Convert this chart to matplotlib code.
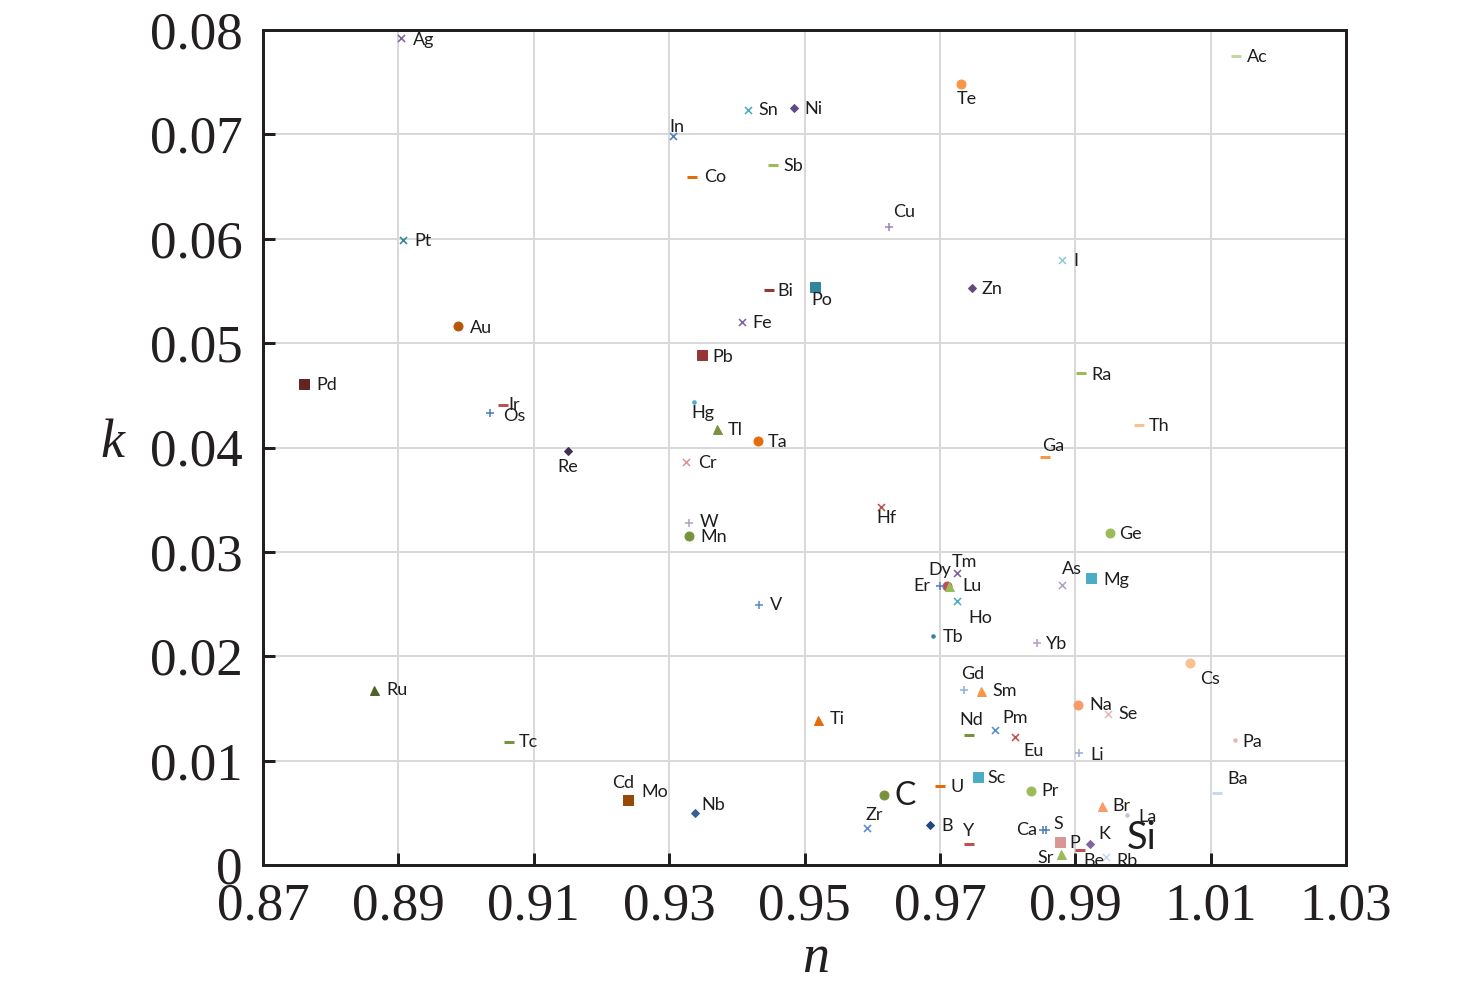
import matplotlib
matplotlib.use("Agg")
import matplotlib.pyplot as plt

# element, refractive index n, extinction coefficient k
elements = ["Ag", "Sn", "Ni", "In", "Co", "Sb", "Pt", "Cu", "Te", "Ac",
            "Bi", "Po", "Zn", "I", "Au", "Fe", "Pb", "Pd", "Ra", "Os",
            "Ir", "Hg", "Tl", "Ta", "Re", "Ga", "Th", "Cr", "Hf", "W",
            "Mn", "Ge", "Tm", "Dy", "Er", "Lu", "Ho", "Tb", "As", "Mg",
            "Yb", "V", "Cs", "Ru", "Gd", "Sm", "Ti", "Na", "Se", "Nd",
            "Pm", "Eu", "Li", "Pa", "Tc", "Sc", "U", "C", "Pr", "Ba",
            "Cd", "Mo", "Nb", "Br", "La", "Zr", "B", "Y", "Ca", "S",
            "P", "Sr", "K", "Be", "Rb", "Si"]
n_vals = [0.8904, 0.9416, 0.9484, 0.9305, 0.9334, 0.9453, 0.8907, 0.9625, 0.9731, 1.0138,
          0.9447, 0.9515, 0.9747, 0.9881, 0.8988, 0.9408, 0.9348, 0.8761, 0.9909, 0.9036,
          0.9054, 0.9337, 0.9370, 0.9431, 0.9150, 0.9855, 0.9994, 0.9325, 0.9613, 0.9330,
          0.9330, 0.9951, 0.9726, 0.9710, 0.9700, 0.9713, 0.9726, 0.9690, 0.9881, 0.9924,
          0.9843, 0.9433, 1.0069, 0.8864, 0.9736, 0.9761, 0.9520, 0.9904, 0.9948, 0.9743,
          0.9781, 0.9811, 0.9906, 1.0136, 0.9063, 0.9756, 0.9700, 0.9617, 0.9835, 1.0110,
          0.9239, 0.9239, 0.9338, 0.9939, 0.9977, 0.9592, 0.9686, 0.9743, 0.9852, 0.9857,
          0.9877, 0.9879, 0.9922, 0.9907, 0.9946, 0.9974]
k_vals = [0.0792, 0.0723, 0.0725, 0.0698, 0.0659, 0.0671, 0.0599, 0.0611, 0.0748, 0.0775,
          0.0551, 0.0554, 0.0553, 0.0580, 0.0516, 0.0520, 0.0489, 0.0461, 0.0471, 0.0433,
          0.0441, 0.0444, 0.0418, 0.0406, 0.0397, 0.0391, 0.0422, 0.0386, 0.0343, 0.0328,
          0.0315, 0.0318, 0.0280, 0.0267, 0.0267, 0.0267, 0.0253, 0.0219, 0.0268, 0.0275,
          0.0213, 0.0249, 0.0194, 0.0168, 0.0168, 0.0167, 0.0139, 0.0153, 0.0145, 0.0125,
          0.0129, 0.0123, 0.0107, 0.0120, 0.0118, 0.0084, 0.0076, 0.0067, 0.0071, 0.0069,
          0.0062, 0.0062, 0.0050, 0.0057, 0.0048, 0.0035, 0.0038, 0.0020, 0.0034, 0.0034,
          0.0022, 0.0011, 0.0020, 0.0014, 0.0008, 0.0016]

x_ticks = [0.87, 0.89, 0.91, 0.93, 0.95, 0.97, 0.99, 1.01, 1.03]
x_tick_labels = ["0.87", "0.89", "0.91", "0.93", "0.95", "0.97", "0.99", "1.01", "1.03"]
y_ticks = [0, 0.01, 0.02, 0.03, 0.04, 0.05, 0.06, 0.07, 0.08]
y_tick_labels = ["0", "0.01", "0.02", "0.03", "0.04", "0.05", "0.06", "0.07", "0.08"]

# marker style per element (Excel-like series markers)
STYLE = {
    "Ag": ("x", "#8064A2"), "Sn": ("x", "#4BACC6"), "Ni": ("D", "#5F4B8B"),
    "In": ("x", "#4F81BD"), "Co": ("_", "#E46C0A"), "Sb": ("_", "#9BBB59"),
    "Pt": ("x", "#31859C"), "Cu": ("+", "#9C86C0"), "Te": ("o", "#F79646"),
    "Ac": ("_", "#C3D69B"), "Bi": ("_", "#953735"), "Po": ("s", "#31859C"),
    "Zn": ("D", "#604A7B"), "I": ("x", "#93CDDD"), "Au": ("o", "#B65708"),
    "Fe": ("x", "#8064A2"), "Pb": ("s", "#953735"), "Pd": ("s", "#632523"),
    "Ra": ("_", "#9BBB59"), "Os": ("+", "#4F81BD"), "Ir": ("_", "#C0504D"),
    "Hg": (".", "#4BACC6"), "Tl": ("^", "#77933C"), "Ta": ("o", "#E46C0A"),
    "Re": ("D", "#403152"), "Ga": ("_", "#F79646"), "Th": ("_", "#FAC090"),
    "Cr": ("x", "#D99694"), "Hf": ("x", "#C0504D"), "W": ("+", "#B3A2C7"),
    "Mn": ("o", "#77933C"), "Ge": ("o", "#9BBB59"), "Tm": ("x", "#8064A2"),
    "Dy": ("o", "#C0504D"), "Er": ("+", "#4F81BD"), "Lu": ("^", "#9BBB59"),
    "Ho": ("x", "#4BACC6"), "Tb": (".", "#31859C"), "As": ("x", "#B3A2C7"),
    "Mg": ("s", "#4BACC6"), "Yb": ("+", "#B3A2C7"), "V": ("+", "#558ED5"),
    "Cs": ("o", "#FAC090"), "Ru": ("^", "#4F6228"), "Gd": ("+", "#8EB4E3"),
    "Sm": ("^", "#F79646"), "Ti": ("^", "#E46C0A"), "Na": ("o", "#FA9A6A"),
    "Se": ("x", "#E6B9B8"), "Nd": ("_", "#77933C"), "Pm": ("x", "#558ED5"),
    "Eu": ("x", "#C0504D"), "Li": ("+", "#95B3D7"), "Pa": (".", "#E6B9B8"),
    "Tc": ("_", "#77933C"), "Sc": ("s", "#4BACC6"), "U": ("_", "#E46C0A"),
    "C": ("o", "#77933C"), "Pr": ("o", "#9BBB59"), "Ba": ("_", "#C6D9F1"),
    "Cd": ("s", "#31859C"), "Mo": ("s", "#984807"), "Nb": ("D", "#376092"),
    "Br": ("^", "#FA9A6A"), "La": (".", "#CCC1DA"), "Zr": ("x", "#558ED5"),
    "B": ("D", "#1F497D"), "Y": ("_", "#C0504D"), "Ca": ("+", "#4F81BD"),
    "S": ("+", "#4F81BD"), "P": ("s", "#D99694"), "Sr": ("^", "#9BBB59"),
    "K": ("D", "#8064A2"), "Be": ("_", "#C0504D"), "Rb": ("x", "#C6D9F1"),
    "Si": ("none", "#000000"),
}
MARKER_SIZE = {"x": 7, "+": 8, "D": 6, "_": 10, "s": 10, "o": 9, "^": 9, ".": 7, "none": 1}
MARKER_EW = {"x": 1.6, "+": 1.6, "_": 3.0}

# label offsets in pixels (dx right, dy down) from marker to label centre
LABEL_OFF = {
    "Ag": (23, 2), "Sn": (21, 0), "Ni": (20, 1), "In": (4, -9), "Co": (23, 0),
    "Sb": (21, 1), "Pt": (20, 1), "Cu": (15, -15), "Te": (6, 15), "Ac": (21, 1),
    "Bi": (17, 1), "Po": (7, 13), "Zn": (20, 1), "I": (13, 1), "Au": (23, 2),
    "Fe": (20, 1), "Pb": (21, 2), "Pd": (22, 1), "Ra": (20, 2), "Os": (24, 3),
    "Ir": (12, 0), "Hg": (9, 11), "Tl": (19, 1), "Ta": (20, 1), "Re": (0, 16),
    "Ga": (8, -11), "Th": (20, 1), "Cr": (21, 1), "Hf": (5, 11), "W": (20, -1),
    "Mn": (24, 1), "Ge": (21, 1), "V": (17, 0), "Tm": (7, -11), "Dy": (-7, -16),
    "Er": (-18, 0), "Lu": (23, 0), "Ho": (23, 17), "Tb": (20, 1), "As": (10, -16),
    "Mg": (25, 2), "Yb": (20, 1), "Cs": (20, 16), "Ru": (23, 0), "Gd": (8, -16),
    "Sm": (24, 0), "Ti": (19, -1), "Na": (23, 0), "Se": (20, 0), "Nd": (2, -15),
    "Pm": (20, -12), "Eu": (19, 14), "Li": (18, 2), "Pa": (17, 2), "Tc": (20, 0),
    "Ba": (20, -14), "Cd": (-5, -17), "Mo": (27, -8), "Nb": (18, -8), "Sc": (19, 1),
    "U": (17, 1), "C": (21, 1), "Pr": (19, 0), "Br": (20, 0), "La": (20, 2),
    "Zr": (7, -13), "B": (17, 1), "Y": (0, -13), "Ca": (-16, 0), "S": (12, -6),
    "P": (15, 1), "Sr": (-15, 4), "K": (14, -10), "Be": (14, 11), "Rb": (21, 4),
    "Si": (16, -10),
}
BIG_LABELS = {"C": 32, "Si": 38}

plt.rcParams.update({
    "font.family": "Liberation Serif",
})

fig = plt.figure(figsize=(1476 / 72, 987 / 72), dpi=72)
ax = fig.add_axes([263 / 1476, 1 - 865 / 987, (1346 - 263) / 1476, (865 - 30) / 987])

for name, n, k in zip(elements, n_vals, k_vals):
    marker, color = STYLE[name]
    if marker != "none":
        ax.plot(n, k, linestyle="none", marker=marker, color=color,
                markersize=MARKER_SIZE[marker], markeredgewidth=MARKER_EW.get(marker, 1.0),
                zorder=3)
    dx, dy = LABEL_OFF.get(name, (20, 0))
    ax.annotate(name, (n, k), xytext=(dx, -dy), textcoords="offset points",
                ha="center", va="center", fontsize=BIG_LABELS.get(name, 18),
                family="Lato", color="#1E1E1E", zorder=4)

ax.set_xlim(0.87, 1.03)
ax.set_ylim(0, 0.08)
ax.set_xticks(x_ticks)
ax.set_xticklabels(x_tick_labels)
ax.set_yticks(y_ticks)
ax.set_yticklabels(y_tick_labels)
ax.tick_params(direction="in", length=12, width=3, labelsize=53, color="#231F20",
               labelcolor="#231F20")
ax.tick_params(axis="x", pad=17)
ax.tick_params(axis="y", pad=20)
ax.grid(True, color="#D9D9D9", linewidth=2)
ax.set_axisbelow(True)
for sp in ax.spines.values():
    sp.set_linewidth(3)
    sp.set_color("#231F20")

ax.set_xlabel("n", fontsize=54, style="italic", color="#231F20")
ax.xaxis.set_label_coords(0.51, -0.082)
ax.set_ylabel("k", fontsize=54, style="italic", rotation=0, color="#231F20",
              ha="center", va="center")
ax.yaxis.set_label_coords(-0.139, 0.505)

fig.savefig("out.png", dpi=72)
